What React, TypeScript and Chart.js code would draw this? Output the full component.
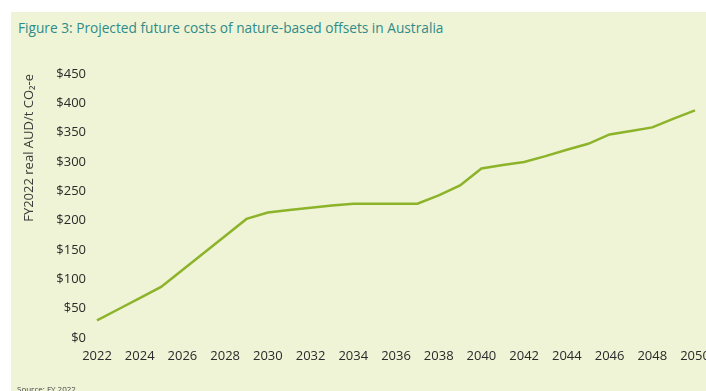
import React, { useEffect, useRef } from "react";
import { Chart, registerables } from "chart.js";

Chart.register(...registerables);

const years: string[] = [
  "2022", "2023", "2024", "2025", "2026", "2027", "2028", "2029", "2030", "2031",
  "2032", "2033", "2034", "2035", "2036", "2037", "2038", "2039", "2040", "2041",
  "2042", "2043", "2044", "2045", "2046", "2047", "2048", "2049", "2050",
];
const costs: number[] = [
  30, 49, 68, 87, 116, 145, 174, 203, 214, 218,
  222, 226, 229, 229, 229, 229, 243, 260, 289, 295,
  300, 310, 321, 331, 347, 353, 359, 374, 388,
];
const titleText = "Figure 3: Projected future costs of nature-based offsets in Australia";
const yAxisTitle = "FY2022 real AUD/t CO\u2082-e";
const sourceText = "Source: FY 2022";

const FONT = "'Open Sans', Lato, sans-serif";

export default function App() {
  const ref = useRef<HTMLCanvasElement | null>(null);

  useEffect(() => {
    document.body.style.margin = "0";
    document.body.style.overflow = "hidden";
    if (!ref.current) return;
    const chart = new Chart(ref.current, {
      type: "line",
      data: {
        labels: years,
        datasets: [
          {
            data: costs,
            borderColor: "#8db32b",
            borderWidth: 2.5,
            pointRadius: 0,
            tension: 0,
            fill: false,
          },
        ],
      },
      options: {
        animation: false,
        responsive: false,
        maintainAspectRatio: false,
        layout: { padding: { left: 8, top: 62, right: 36, bottom: 0 } },
        plugins: {
          legend: { display: false },
          tooltip: { enabled: false },
          title: { display: false },
        },
        scales: {
          x: {
            offset: false,
            grid: { display: false, drawTicks: false },
            border: { display: false },
            ticks: {
              autoSkip: false,
              maxRotation: 0,
              padding: 10,
              color: "#2a2a2a",
              font: { family: FONT, size: 13 },
              callback: (_v: any, i: number) => (i % 2 === 0 ? years[i] : ""),
            },
            afterFit: (s: any) => {
              s.height = 53;
              s.paddingLeft = 0;
              s.paddingRight = 0;
            },
          },
          y: {
            min: 0,
            max: 450,
            grid: { display: false, drawTicks: false },
            border: { display: false },
            ticks: {
              stepSize: 50,
              padding: 11,
              color: "#2a2a2a",
              font: { family: FONT, size: 13 },
              callback: (v: any) => "$" + v,
            },
            title: {
              display: true,
              text: yAxisTitle,
              align: "end",
              color: "#3a3a3a",
              font: { family: FONT, size: 13 },
              padding: { top: 2, bottom: 0 },
            },
            afterFit: (s: any) => {
              s.width = 78;
            },
          },
        },
      },
    });
    return () => chart.destroy();
  }, []);

  return (
    <div
      style={{
        position: "absolute",
        left: 0,
        top: 0,
        width: 706,
        height: 391,
        overflow: "hidden",
        background: "#ffffff",
      }}
    >
      <div
        style={{
          position: "absolute",
          left: 11,
          top: 12,
          right: 0,
          bottom: 0,
          background: "#eef4d5",
        }}
      />
      <div
        style={{
          position: "absolute",
          left: 18,
          top: 18,
          fontFamily: FONT,
          fontSize: 13.7,
          color: "#2e8b8a",
          whiteSpace: "nowrap",
        }}
      >
        {titleText}
      </div>
      <canvas
        ref={ref}
        width={720}
        height={379}
        style={{ position: "absolute", left: 11, top: 12, width: 720, height: 379 }}
      />
      <div
        style={{
          position: "absolute",
          left: 17,
          top: 383,
          fontFamily: FONT,
          fontSize: 8,
          color: "#444444",
          whiteSpace: "nowrap",
        }}
      >
        {sourceText}
      </div>
    </div>
  );
}
